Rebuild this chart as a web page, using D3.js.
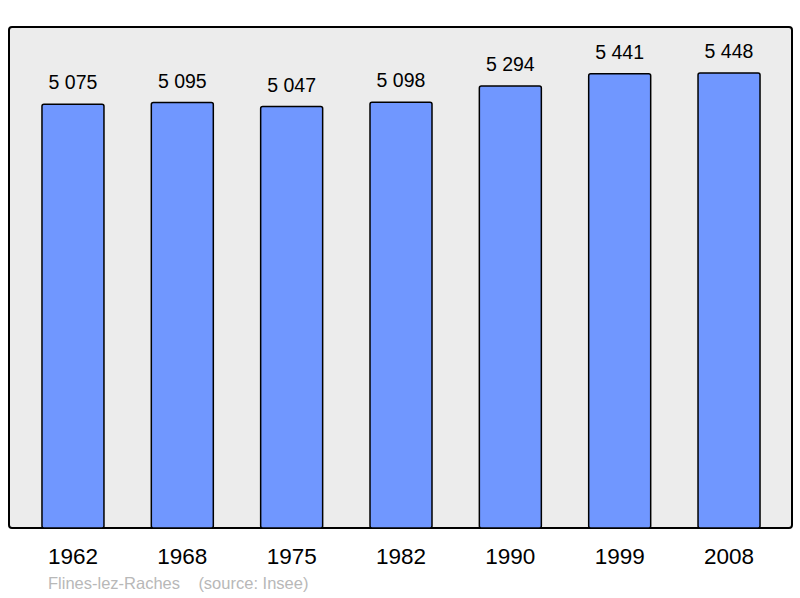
<!DOCTYPE html>
<html lang="fr">
<head>
  <meta charset="UTF-8">
  <title>Flines-lez-Raches</title>
  <script src="https://cdn.jsdelivr.net/npm/d3@7"></script>
  <style>body{margin:0;background:#fff}</style>
</head>
<body>
<div id="chart"></div>
<script>
    let years = ["1962", "1968", "1975", "1982", "1990", "1999", "2008"];
    let population = [5075, 5095, 5047, 5098, 5294, 5441, 5448];
    let footer = "Flines-lez-Raches    (source: Insee)";

    let width = 800, height = 598;
    let svg = d3.select("#chart").append("svg").attr("width", width).attr("height", height)
        .style("font-family", "'Liberation Sans', Arial, sans-serif");

    // panel
    svg.append("rect").attr("x", 9).attr("y", 27).attr("width", 783).attr("height", 501)
        .attr("rx", 3).attr("fill", "#ececec").attr("stroke", "#000").attr("stroke-width", 2);

    let x = d3.scaleBand().domain(years).range([18.3, 783.7])
        .paddingInner(0.433).paddingOuter(0.2165);
    let y = d3.scaleLinear().domain([0, 6000]).range([528, 27]);

    svg.selectAll(".bar").data(population).enter().append("rect")
        .attr("x", (d, i) => x(years[i])).attr("y", d => y(d))
        .attr("width", x.bandwidth()).attr("height", d => y(0) - y(d))
        .attr("rx", 2).attr("fill", "#7097ff").attr("stroke", "#000").attr("stroke-width", 1.5);

    svg.selectAll(".val").data(population).enter().append("text")
        .attr("x", (d, i) => x(years[i]) + x.bandwidth() / 2).attr("y", d => y(d) - 15)
        .attr("text-anchor", "middle").attr("font-size", 19.5)
        .text(d => d3.format(",")(d).replace(",", " "));

    svg.selectAll(".year").data(years).enter().append("text")
        .attr("x", d => x(d) + x.bandwidth() / 2).attr("y", 564)
        .attr("text-anchor", "middle").attr("font-size", 22.5).text(d => d);

    svg.append("text").attr("x", 48).attr("y", 589).attr("font-size", 16.5)
        .attr("fill", "#b8b8b8").attr("xml:space", "preserve").style("white-space", "pre")
        .text(footer);
</script>
</body>
</html>
